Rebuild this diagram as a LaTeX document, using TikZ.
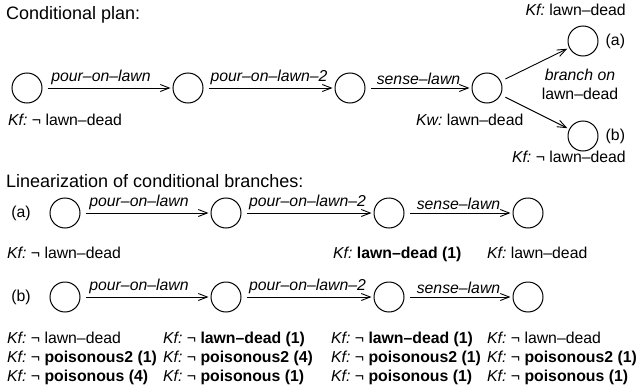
\documentclass[tikz,border=0pt]{standalone}
\usepackage{fontspec}
\setmainfont{Liberation Sans}
\usetikzlibrary{positioning,arrows.meta}
\newcommand\figfont{\fontsize{15.8}{19}\selectfont}
\newcommand\titlefont{\fontsize{18}{21}\selectfont}
\newcommand\kf{\textit{Kf:}\ }
\newcommand\kw{\textit{Kw:}\ }
\tikzset{
  state-style/.style = {
    circle, draw, line width=1pt,
    minimum size=30pt,
    inner sep=0pt
  },
  fact-style/.style = {
    anchor=west, inner sep=0pt,
    text height=11pt, text depth=0pt
  },
  title-style/.style = {
    fact-style, font=\titlefont,
    text height=13pt
  },
  tag-style/.style = {
    inner sep=0pt
  },
  act-style/.style = {
    above=3pt, inner sep=0pt,
    font=\figfont\itshape
  },
  every edge/.style = {
    draw, ->, >={Straight Barb[length=9pt,width=7pt]}, line width=0.9pt,
    shorten <=5pt, shorten >=2pt
  }
}

\begin{document}
\begin{tikzpicture}[x=1pt,y=-1pt,every node/.style={font=\figfont}]
    \useasboundingbox (0,0) rectangle (640,388);

    %%% conditional plan
    \node[title-style] (titlePlan) at (6,13) {Conditional plan:};
    \node[state-style] (p1) at (27,88) {};
    \node[state-style] (p2) at (188,88) {};
    \node[state-style] (p3) at (350,88) {};
    \node[state-style] (p4) at (487,88) {};
    \node[state-style] (pA) at (583,41) {};
    \node[state-style] (pB) at (583,136) {};
    \node[tag-style,right=7pt of pA] (tagA) {(a)};
    \node[tag-style,right=7pt of pB] (tagB) {(b)};
    \node[fact-style] (kfP1) at (8,120) {\kf ¬ lawn--dead};
    \node[fact-style] (kwP4) at (416,120) {\kw lawn--dead};
    \node[fact-style,anchor=east] (kfPA) at (626,10) {\kf lawn--dead};
    \node[fact-style,anchor=east] (kfPB) at (626,157) {\kf ¬ lawn--dead};
    \node[tag-style,align=center,font=\fontsize{15.8}{19}\selectfont] (branch) at (580,84)
      {\textit{branch on}\\lawn--dead};

    %%% plan arrows
    \path[->] (p1) edge node[act-style,pos=0.45] {pour--on--lawn} (p2);
    \path[->] (p2) edge node[act-style] {pour--on--lawn--2} (p3);
    \path[->] (p3) edge node[act-style] {sense--lawn} (p4);
    \path[->] (p4) edge (pA);
    \path[->] (p4) edge (pB);

    %%% linearization
    \node[title-style] (titleLin) at (6,181) {Linearization of conditional branches:};

    %%% branch (a)
    \node[tag-style] (tagLa) at (21,213) {(a)};
    \node[state-style] (la1) at (65,213) {};
    \node[state-style] (la2) at (226,213) {};
    \node[state-style] (la3) at (389,213) {};
    \node[state-style] (la4) at (528,213) {};
    \node[fact-style] (kfLa1) at (7,253) {\kf ¬ lawn--dead};
    \node[fact-style] (kfLa3) at (333,253) {\kf \textbf{lawn--dead (1)}};
    \node[fact-style] (kfLa4) at (487,253) {\kf lawn--dead};
    \path[->] (la1) edge node[act-style,pos=0.45] {pour--on--lawn} (la2);
    \path[->] (la2) edge node[act-style] {pour--on--lawn--2} (la3);
    \path[->] (la3) edge node[act-style] {sense--lawn} (la4);

    %%% branch (b)
    \node[tag-style] (tagLb) at (21,297) {(b)};
    \node[state-style] (lb1) at (65,297) {};
    \node[state-style] (lb2) at (226,297) {};
    \node[state-style] (lb3) at (389,297) {};
    \node[state-style] (lb4) at (528,297) {};
    \node[fact-style] (kfLb1a) at (7,338) {\kf ¬ lawn--dead};
    \node[fact-style] (kfLb1b) at (7,357) {\kf ¬ \textbf{poisonous2 (1)}};
    \node[fact-style] (kfLb1c) at (7,376) {\kf ¬ \textbf{poisonous (4)}};
    \node[fact-style] (kfLb2a) at (163,338) {\kf ¬ \textbf{lawn--dead (1)}};
    \node[fact-style] (kfLb2b) at (163,357) {\kf ¬ \textbf{poisonous2 (4)}};
    \node[fact-style] (kfLb2c) at (163,376) {\kf ¬ \textbf{poisonous (1)}};
    \node[fact-style] (kfLb3a) at (331,338) {\kf ¬ \textbf{lawn--dead (1)}};
    \node[fact-style] (kfLb3b) at (331,357) {\kf ¬ \textbf{poisonous2 (1)}};
    \node[fact-style] (kfLb3c) at (331,376) {\kf ¬ \textbf{poisonous (1)}};
    \node[fact-style] (kfLb4a) at (487,338) {\kf ¬ lawn--dead};
    \node[fact-style] (kfLb4b) at (487,357) {\kf ¬ \textbf{poisonous2 (1)}};
    \node[fact-style] (kfLb4c) at (487,376) {\kf ¬ \textbf{poisonous (1)}};
    \path[->] (lb1) edge node[act-style,pos=0.45] {pour--on--lawn} (lb2);
    \path[->] (lb2) edge node[act-style] {pour--on--lawn--2} (lb3);
    \path[->] (lb3) edge node[act-style] {sense--lawn} (lb4);
\end{tikzpicture}
\end{document}
